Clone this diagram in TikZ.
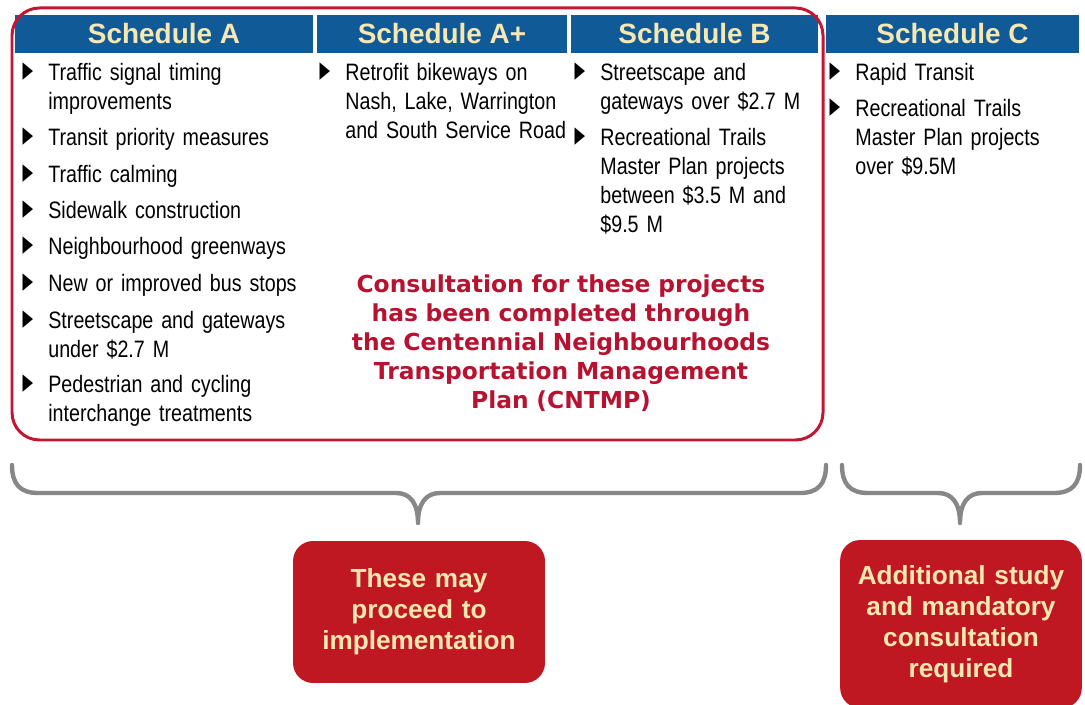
\documentclass[tikz,border=0pt]{standalone}
\usepackage{fontspec}
\setmainfont{Liberation Sans}
\newfontfamily\listfont[FakeStretch=0.83]{Liberation Sans}
\newfontfamily\heavyfont{DejaVu Sans}
\newfontfamily\symfont[FakeStretch=0.6]{DejaVu Sans}
\usetikzlibrary{positioning}
\definecolor{hdrblue}{RGB}{16,90,152}
\definecolor{framered}{RGB}{196,22,50}
\definecolor{notered}{RGB}{183,18,48}
\definecolor{boxred}{RGB}{192,24,34}
\definecolor{cream}{RGB}{246,232,176}
\definecolor{bracegray}{RGB}{135,135,135}
\tikzset{
hdr/.style={fill=hdrblue, text=cream, inner sep=0pt, minimum height=0.76cm, font=\fontsize{15.9}{18}\selectfont\bfseries}, % blue title bars
itm/.style={anchor=base west, inner sep=0pt, text width=5.4cm, align=left, font=\listfont\fontsize{13.5}{16.5}\selectfont}, % list entries
bul/.style={inner sep=0pt, font=\symfont\fontsize{13}{13}\selectfont}, % the little triangles
note/.style={anchor=base, inner sep=0pt, text width=9.5cm, align=center, text=notered, font=\heavyfont\bfseries\fontsize{13.3}{16.5}\selectfont},
outcome/.style={fill=boxred, text=cream, rounded corners=0.4cm, align=center, text width=4.6cm, font=\bfseries\fontsize{14.9}{17.6}\selectfont},
curly/.style={draw=bracegray, line width=2.5pt, line cap=round, line join=round},
}

\begin{document}
\begin{tikzpicture}[x=0.02cm, y=-0.02cm]
  \useasboundingbox (0,0) rectangle (1085,705);

  % title bars
  \node[hdr, minimum width=5.96cm] (hA) at (164,34) {Schedule A};
  \node[hdr, minimum width=5cm] (hAp) at (442,34) {Schedule A+};
  \node[hdr, minimum width=4.94cm] (hB) at (694.5,34) {Schedule B};
  \node[hdr, minimum width=5.06cm] (hC) at (952.5,34) {Schedule C};

  % lists
  \foreach \nm/\x/\y/\txt in {
      a1/48/81/{Traffic signal timing\\improvements},
      a2/48/146/{Transit priority measures},
      a3/48/183/{Traffic calming},
      a4/48/219/{Sidewalk construction},
      a5/48/255/{Neighbourhood greenways},
      a6/48/292/{New or improved bus stops},
      a7/48/329/{Streetscape and gateways\\under \$2.7 M},
      a8/48/393/{Pedestrian and cycling\\interchange treatments},
      p1/345/81/{Retrofit bikeways on\\Nash, Lake, Warrington\\and South Service Road},
      b1/600/81/{Streetscape and\\gateways over \$2.7 M},
      b2/600/146/{Recreational Trails\\Master Plan projects\\between \$3.5 M and\\\$9.5 M},
      c1/855/81/{Rapid Transit},
      c2/855/117/{Recreational Trails\\Master Plan projects\\over \$9.5M}}
  {
    \node[bul] (bul\nm) at ({\x-20},{\y-9}) {▶};
    \node[itm] (itm\nm) at (\x,\y) {\txt};
  }

  % frame round A, A+ and B
  \draw[framered, line width=1.7pt, rounded corners=0.55cm] (12,8) rectangle (823,440);

  \node[note] (cntmp) at (561,293) {Consultation for these projects\\has been completed through\\the Centennial Neighbourhoods\\Transportation Management\\Plan (CNTMP)};

  % braces
  \coordinate (brL) at (12,465);
  \coordinate (tipL) at (418,523);
  \coordinate (brR) at (826,465);
  \coordinate (brC) at (842,465);
  \coordinate (tipC) at (960,523);
  \coordinate (brE) at (1080,465);
  \draw[curly] (brL) .. controls (12,484) and (20,493) .. (38,493) -- (396,493)
    .. controls (410,493) and (418,503) .. (tipL)
    .. controls (418,503) and (426,493) .. (440,493) -- (800,493)
    .. controls (818,493) and (826,484) .. (brR);
  \draw[curly] (brC) .. controls (842,484) and (850,493) .. (868,493) -- (938,493)
    .. controls (952,493) and (960,503) .. (tipC)
    .. controls (960,503) and (968,493) .. (982,493) -- (1054,493)
    .. controls (1072,493) and (1080,484) .. (brE);

  \node[outcome, minimum width=5.04cm, minimum height=2.84cm] (proceed) at (419,612) {These may\\proceed to\\implementation};
  \node[outcome, minimum width=4.76cm, minimum height=3.36cm] (study) at (961,624) {Additional study\\and mandatory\\consultation\\required};
\end{tikzpicture}
\end{document}
